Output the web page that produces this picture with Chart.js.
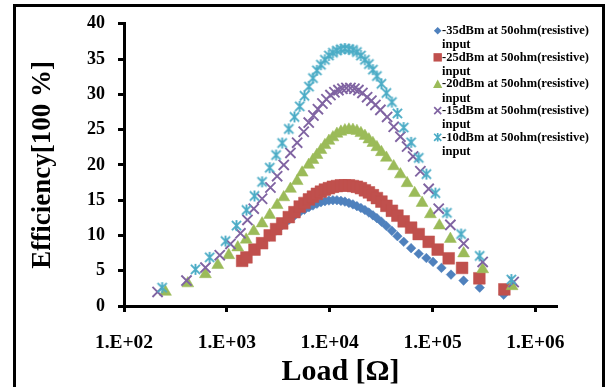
<!DOCTYPE html>
<html>
<head>
<meta charset="utf-8">
<script src="https://cdn.jsdelivr.net/npm/chart.js@4.4.1/dist/chart.umd.min.js"></script>
<style>
  html, body { margin: 0; padding: 0; background: #fff; }
  canvas { display: block; }
</style>
</head>
<body>
<canvas id="chart" width="612" height="387"></canvas>
<script>
// Load sweep (ohm) and rectifier efficiency (%) for each input power level.
const load35 = [1408, 1550, 1855, 2200, 2610, 3010, 3450, 4000, 4540, 5110, 5680, 6280, 6870, 7510, 8210, 8980, 9820, 10740, 11750, 12850, 14050, 15370, 16810, 18380, 20100, 21990, 24040, 26290, 28750, 31810, 35560, 40220, 45500, 52380, 61820, 73280, 87030, 101000, 122000, 151000, 200000, 287000, 491000];
const eff35  = [6.35, 6.85, 7.9, 8.8, 9.85, 10.7, 11.45, 12.2, 12.8, 13.3, 13.65, 14.0, 14.25, 14.5, 14.7, 14.85, 14.95, 15.0, 15.0, 14.9, 14.8, 14.6, 14.4, 14.15, 13.9, 13.6, 13.25, 12.85, 12.45, 11.95, 11.35, 10.65, 9.9, 9.1, 8.2, 7.4, 6.8, 6.25, 5.4, 4.45, 3.6, 2.6, 1.6];

const load25 = [1408, 1550, 1855, 2200, 2610, 3010, 3450, 4000, 4540, 5110, 5680, 6280, 6870, 7510, 8210, 8980, 9820, 10740, 11750, 12850, 14050, 15370, 16810, 18380, 20100, 21990, 24040, 26290, 28750, 31810, 35560, 40220, 45500, 52380, 61820, 73280, 91660, 112100, 143400, 193500, 284900, 498600];
const eff25  = [6.4, 6.9, 8.0, 8.9, 10.0, 10.9, 11.7, 12.6, 13.3, 14.1, 14.6, 15.1, 15.5, 15.9, 16.2, 16.5, 16.7, 16.9, 17.0, 17.1, 17.1, 17.1, 17.0, 16.9, 16.7, 16.4, 16.1, 15.7, 15.3, 14.8, 14.2, 13.5, 12.8, 12.0, 11.1, 10.2, 9.1, 8.0, 6.76, 5.4, 3.93, 2.36];

const load20 = [253, 417, 619, 816, 1043, 1276, 1540, 1826, 2200, 2610, 3082, 3573, 4150, 4823, 5392, 6250, 6870, 7510, 8210, 8980, 9820, 10740, 11750, 12850, 14050, 15370, 16810, 18380, 20100, 21990, 24040, 26290, 28750, 31810, 35560, 41880, 48660, 56530, 66990, 79070, 95200, 116500, 148900, 200500, 306800, 592400];
const eff20  = [2.0, 3.2, 4.5, 5.8, 7.2, 8.3, 9.4, 10.6, 11.7, 12.9, 14.3, 15.4, 16.6, 17.7, 18.9, 20.0, 20.7, 21.4, 22.1, 22.8, 23.4, 23.9, 24.4, 24.7, 24.9, 25.0, 24.95, 24.8, 24.5, 24.1, 23.6, 23.1, 22.5, 21.8, 21.0, 19.8, 18.65, 17.4, 16.0, 14.6, 13.0, 11.4, 9.5, 7.45, 5.2, 2.8];

const load15 = [212, 405, 619, 853, 1084, 1356, 1586, 1826, 2200, 2652, 3082, 3573, 4150, 4823, 5588, 6250, 6943, 7680, 8492, 9288, 10160, 11110, 12150, 13290, 14530, 15890, 17380, 19010, 20790, 23090, 25420, 27800, 31090, 36130, 41880, 48660, 56530, 64640, 76090, 91660, 114700, 148900, 200500, 306800, 614000];
const eff15  = [2.0, 3.6, 5.45, 7.2, 8.8, 10.3, 12.2, 13.8, 15.2, 16.8, 18.4, 20.0, 21.7, 23.15, 24.7, 26.0, 27.0, 27.9, 28.7, 29.3, 29.9, 30.3, 30.6, 30.8, 30.9, 30.9, 30.8, 30.6, 30.2, 29.6, 29.1, 28.5, 27.8, 26.8, 25.4, 24.0, 22.6, 21.2, 19.1, 16.6, 13.8, 11.5, 8.85, 6.25, 3.4];

const load10 = [235, 495, 680, 970, 1240, 1550, 1855, 2200, 2610, 3010, 3450, 4000, 4540, 5110, 5680, 6280, 6870, 7510, 8210, 8980, 9820, 10740, 11750, 12850, 14050, 15370, 16810, 18380, 20100, 21990, 24040, 26290, 28750, 31810, 35560, 40220, 45500, 52380, 61820, 73280, 87030, 106500, 137700, 189200, 286800, 583300];
const eff10  = [2.6, 5.2, 6.9, 9.2, 11.4, 13.6, 15.6, 17.6, 19.6, 21.4, 23.1, 25.1, 26.8, 28.3, 29.8, 31.1, 32.3, 33.4, 34.2, 34.9, 35.5, 35.9, 36.2, 36.4, 36.5, 36.4, 36.3, 36.0, 35.5, 34.9, 34.3, 33.5, 32.6, 31.5, 30.2, 28.9, 27.3, 25.3, 23.2, 21.0, 18.7, 16.0, 13.2, 10.2, 7.1, 3.75];

const seriesLabels = [
  '-35dBm at 50ohm(resistive) input',
  '-25dBm at 50ohm(resistive) input',
  '-20dBm at 50ohm(resistive) input',
  '-15dBm at 50ohm(resistive) input',
  '-10dBm at 50ohm(resistive) input'
];

const loadTicks = [1e2, 1e3, 1e4, 1e5, 1e6];
const loadTickLabels = ['1.E+02', '1.E+03', '1.E+04', '1.E+05', '1.E+06'];

const SERIF = '"Liberation Serif", "Times New Roman", serif';
const colors = ['#4F81BD', '#C0504D', '#9BBB59', '#8064A2', '#4BACC6'];
const markerKinds = ['diamond', 'square', 'triangle', 'x', 'star'];

// Small marker shapes, used for the legend keys and the asterisk point image.
function drawMarker(ctx, kind, x, y, s, color, lw) {
  ctx.save();
  ctx.fillStyle = color;
  ctx.strokeStyle = color;
  ctx.lineWidth = lw || 1.8;
  ctx.beginPath();
  switch (kind) {
    case 'diamond':
      ctx.moveTo(x, y - s); ctx.lineTo(x + s, y); ctx.lineTo(x, y + s); ctx.lineTo(x - s, y);
      ctx.closePath(); ctx.fill();
      break;
    case 'square':
      ctx.rect(x - s, y - s, 2 * s, 2 * s); ctx.fill();
      break;
    case 'triangle':
      ctx.moveTo(x, y - s); ctx.lineTo(x + s, y + s * 0.85); ctx.lineTo(x - s, y + s * 0.85);
      ctx.closePath(); ctx.fill();
      break;
    case 'x':
      ctx.moveTo(x - s, y - s); ctx.lineTo(x + s, y + s);
      ctx.moveTo(x + s, y - s); ctx.lineTo(x - s, y + s);
      ctx.stroke();
      break;
    case 'star':
      ctx.moveTo(x - s * 0.85, y - s * 0.85); ctx.lineTo(x + s * 0.85, y + s * 0.85);
      ctx.moveTo(x + s * 0.85, y - s * 0.85); ctx.lineTo(x - s * 0.85, y + s * 0.85);
      ctx.moveTo(x, y - s); ctx.lineTo(x, y + s);
      ctx.stroke();
      break;
  }
  ctx.restore();
}

function asteriskImage(color) {
  const c = document.createElement('canvas');
  c.width = 13; c.height = 13;
  drawMarker(c.getContext('2d'), 'star', 6.5, 6.5, 5.4, color, 1.9);
  return c;
}

function points(xs, ys) {
  return xs.map((x, i) => ({ x: x, y: ys[i] }));
}

const framePlugin = {
  id: 'frame',
  beforeDraw(chart) {
    const ctx = chart.ctx;
    ctx.save();
    ctx.fillStyle = '#fff';
    ctx.fillRect(0, 0, chart.width, chart.height);
    ctx.strokeStyle = '#000';
    ctx.lineWidth = 3;
    ctx.strokeRect(14.5, 5.5, 589, 420);
    ctx.restore();
  }
};

const legendPlugin = {
  id: 'seriesKey',
  afterDraw(chart) {
    const ctx = chart.ctx;
    const keySizes = [3.8, 4.2, 4.6, 3.5, 4.2];
    ctx.save();
    ctx.font = 'bold 12.5px ' + SERIF;
    ctx.textBaseline = 'middle';
    ctx.textAlign = 'left';
    seriesLabels.forEach((label, i) => {
      const y = 30.7 + i * 26.65;
      const cut = label.lastIndexOf(' ');
      drawMarker(ctx, markerKinds[i], 437.7, y, keySizes[i], colors[i], 1.7);
      ctx.fillStyle = '#000';
      ctx.fillText(label.slice(0, cut), 442, y);
      ctx.fillText(label.slice(cut + 1), 442, y + 14.4);
    });
    ctx.restore();
  }
};

const tickFont = (size) => ({ family: SERIF, weight: 'bold', size: size });

new Chart(document.getElementById('chart'), {
  type: 'scatter',
  data: {
    datasets: [
      { label: seriesLabels[0], data: points(load35, eff35), pointStyle: 'rectRot', pointRadius: 4.8,
        backgroundColor: colors[0], borderColor: colors[0], borderWidth: 0.5, order: 4 },
      { label: seriesLabels[1], data: points(load25, eff25), pointStyle: 'rect', pointRadius: 8.3,
        backgroundColor: colors[1], borderColor: colors[1], borderWidth: 0.5, order: 3 },
      { label: seriesLabels[2], data: points(load20, eff20), pointStyle: 'triangle', pointRadius: 6.9,
        backgroundColor: colors[2], borderColor: colors[2], borderWidth: 0.5, order: 2 },
      { label: seriesLabels[3], data: points(load15, eff15), pointStyle: 'crossRot', pointRadius: 7.2,
        backgroundColor: colors[3], borderColor: colors[3], borderWidth: 1.9, order: 1 },
      { label: seriesLabels[4], data: points(load10, eff10), pointStyle: asteriskImage(colors[4]),
        backgroundColor: colors[4], borderColor: colors[4], order: 0 }
    ]
  },
  options: {
    responsive: false,
    animation: false,
    events: [],
    devicePixelRatio: 1,
    layout: { padding: { left: 0, right: 55, top: 8, bottom: 0 } },
    plugins: { legend: { display: false }, tooltip: { enabled: false } },
    scales: {
      x: {
        type: 'logarithmic',
        min: 100,
        max: 1620000,
        afterBuildTicks(scale) { scale.ticks = loadTicks.map(v => ({ value: v })); },
        afterFit(scale) { scale.height = 81; },
        ticks: {
          autoSkip: false, maxRotation: 0, color: '#000', padding: 19, font: tickFont(19.5),
          callback(value) { const i = loadTicks.indexOf(value); return i >= 0 ? loadTickLabels[i] : ''; }
        },
        grid: { drawOnChartArea: false, tickLength: 6, tickWidth: 3, tickColor: '#000' },
        border: { display: true, color: '#000', width: 3 },
        title: { display: true, text: 'Load [Ω]', color: '#000',
                 font: { family: SERIF, weight: 'bold', size: 30, lineHeight: 1 }, padding: { top: 0, bottom: 0 } }
      },
      y: {
        min: 0,
        max: 40,
        afterFit(scale) { scale.width = 124; },
        ticks: { stepSize: 5, color: '#000', padding: 13, font: tickFont(18) },
        grid: { drawOnChartArea: false, tickLength: 6, tickWidth: 3, tickColor: '#000' },
        border: { display: true, color: '#000', width: 3 },
        title: { display: true, text: 'Efficiency[100 %]', color: '#000',
                 font: { family: SERIF, weight: 'bold', size: 27, lineHeight: 1 }, padding: { top: 30, bottom: 0 } }
      }
    }
  },
  plugins: [framePlugin, legendPlugin]
});
</script>
</body>
</html>
